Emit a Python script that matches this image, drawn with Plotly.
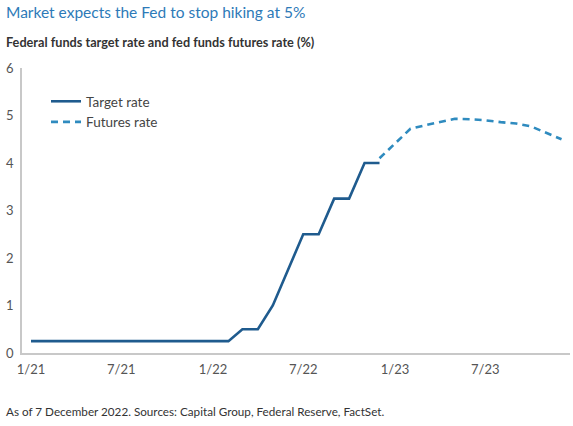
import plotly.graph_objects as go

# monthly points, Fed funds upper bound (%)
target_dates = ["2021-01-01", "2021-02-01", "2021-03-01", "2021-04-01", "2021-05-01",
                "2021-06-01", "2021-07-01", "2021-08-01", "2021-09-01", "2021-10-01",
                "2021-11-01", "2021-12-01", "2022-01-01", "2022-02-01", "2022-03-01",
                "2022-04-01", "2022-05-01", "2022-06-01", "2022-07-01", "2022-08-01",
                "2022-09-01", "2022-10-01", "2022-11-01", "2022-12-01"]
target_rate = [0.25, 0.25, 0.25, 0.25, 0.25, 0.25, 0.25, 0.25, 0.25, 0.25,
               0.25, 0.25, 0.25, 0.25, 0.5, 0.5, 1.0, 1.75, 2.5, 2.5,
               3.25, 3.25, 4.0, 4.0]

futures_dates = ["2022-12-01", "2023-01-01", "2023-02-01", "2023-03-01", "2023-04-01",
                 "2023-05-01", "2023-06-01", "2023-07-01", "2023-08-01", "2023-09-01",
                 "2023-10-01", "2023-11-01", "2023-12-01"]
futures_rate = [4.1, 4.41, 4.72, 4.79, 4.86, 4.93, 4.92, 4.90, 4.86, 4.83, 4.77, 4.64, 4.5]

tick_dates = ["2021-01-01", "2021-07-01", "2022-01-01", "2022-07-01", "2023-01-01", "2023-07-01"]
tick_labels = ["1/21", "7/21", "1/22", "7/22", "1/23", "7/23"]

FONT = "Lato"

W, H = 573, 426
l, r, t, b = 22, 3, 68, 73
pw, ph = W - l - r, H - t - b


def px_x(x):
    return (x - l) / pw


def px_y(y):
    return (H - b - y) / ph


fig = go.Figure()
fig.add_trace(go.Scatter(x=target_dates, y=target_rate, mode='lines', name='Target rate',
                         line=dict(color='#1f5b8e', width=2.6)))
fig.add_trace(go.Scatter(x=futures_dates, y=futures_rate, mode='lines', name='Futures rate',
                         line=dict(color='#2f8bbf', width=2.6, dash='7px,5px')))

header = [
    ("Market expects the Fed to stop hiking at 5%", 12, dict(size=15.5, color='#2d7ab8')),
    ("<b>Federal funds target rate and fed funds futures rate (%)</b>", 42,
     dict(size=12.7, color='#333333')),
    ("As of 7 December 2022. Sources: Capital Group, Federal Reserve, FactSet.", 411,
     dict(size=11.7, color='#333333')),
]

fig.update_layout(
    width=W,
    height=H,
    margin=dict(l=l, r=r, t=t, b=b),
    paper_bgcolor='white',
    plot_bgcolor='white',
    font=dict(family=FONT, color='#555555', size=13),
    showlegend=True,
    legend=dict(x=px_x(46), y=px_y(86), xanchor='left', yanchor='top',
                font=dict(family=FONT, size=13.5, color='#444444'),
                bgcolor='rgba(0,0,0,0)', tracegroupgap=0, itemwidth=30),
    xaxis=dict(
        range=["2020-12-14", "2023-12-18"],
        tickmode='array', tickvals=tick_dates, ticktext=tick_labels,
        showgrid=False, zeroline=False,
        showline=True, linecolor='#c8c8c8', linewidth=1.5,
        ticks='', ticklabelstandoff=4,
        tickfont=dict(family=FONT, size=13, color='#555555'),
    ),
    yaxis=dict(
        range=[0, 6], dtick=1,
        showgrid=False, zeroline=False,
        showline=True, linecolor='#c8c8c8', linewidth=1.5,
        ticks='', ticklabelstandoff=4,
        tickfont=dict(family=FONT, size=13, color='#555555'),
    ),
    annotations=[
        dict(text=txt, xref='paper', yref='paper', x=px_x(4), y=px_y(yy),
             xanchor='left', yanchor='middle', showarrow=False,
             font=dict(family=FONT, **st))
        for txt, yy, st in header
    ],
)

# drop the default 8px body margin so the figure fills the window
fig.write_html("out.html", config={'displayModeBar': False},
               post_script="document.body.style.margin='0px';")
